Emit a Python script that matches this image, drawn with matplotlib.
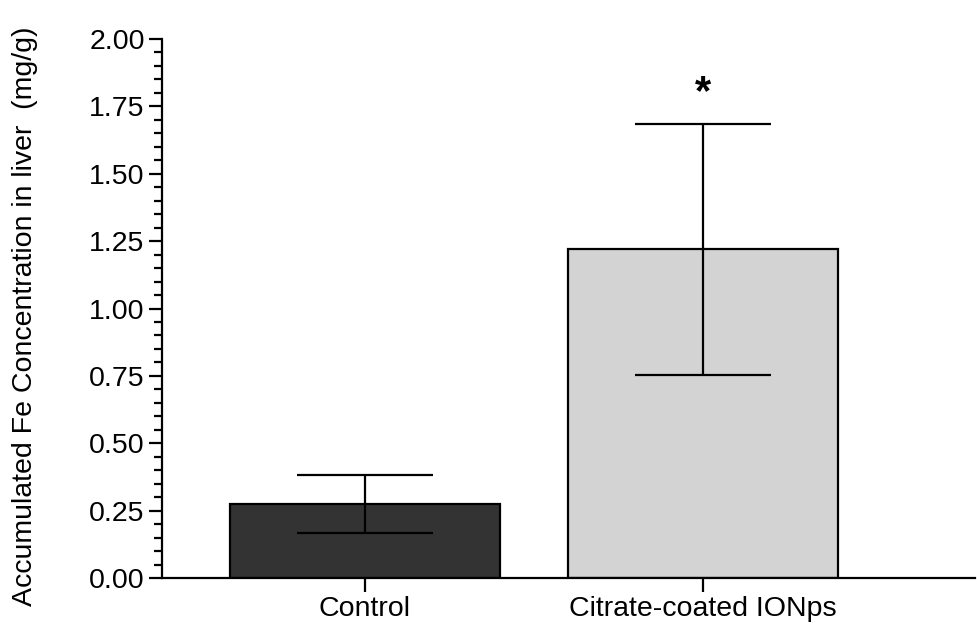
import matplotlib.pyplot as plt
from matplotlib.ticker import MultipleLocator, FormatStrFormatter

plt.rcParams['font.family'] = ['Liberation Sans', 'DejaVu Sans']

# Fe accumulado en hígado (media ± error)
grupos = ["Control", "Citrate-coated IONps"]
medias = [0.275, 1.22]
errores = [0.107, 0.466]
colores = ["#333333", "#d3d3d3"]

fig = plt.figure(figsize=(9.77, 6.23), dpi=100)
ax = fig.add_axes([0.1658, 0.0722, 0.832, 0.8652])

x = [0, 1]
ax.bar(x, medias, width=0.8, color=colores, edgecolor="black", linewidth=1.6, zorder=2)
ax.errorbar(x, medias, yerr=errores, fmt="none", ecolor="black", elinewidth=1.6,
            capsize=49, capthick=1.6, zorder=3)

# marca de significancia sobre el grupo tratado
ax.text(x[1], medias[1] + errores[1] + 0.113, "*", ha="center", va="center",
        fontsize=30, fontweight="bold")

ax.set_xlim(-0.60, 1.805)
ax.set_ylim(0, 2.0)
ax.set_xticks(x)
ax.set_xticklabels(grupos)
ax.yaxis.set_major_locator(MultipleLocator(0.25))
ax.yaxis.set_minor_locator(MultipleLocator(0.05))
ax.yaxis.set_major_formatter(FormatStrFormatter("%.2f"))

for s in ["top", "right"]:
    ax.spines[s].set_visible(False)
for s in ["left", "bottom"]:
    ax.spines[s].set_linewidth(1.6)

ax.tick_params(axis="y", which="major", length=9.5, width=1.6, labelsize=20.5, pad=3)
ax.tick_params(axis="y", which="minor", length=5.8, width=1.6)
ax.tick_params(axis="x", which="major", length=10, width=1.6, labelsize=20.5, pad=3)

ax.set_ylabel("Accumulated Fe Concentration in liver  (mg/g)", fontsize=20.5)
ax.yaxis.set_label_coords(-0.152, 0.485)

fig.savefig("out.png", dpi=100)
